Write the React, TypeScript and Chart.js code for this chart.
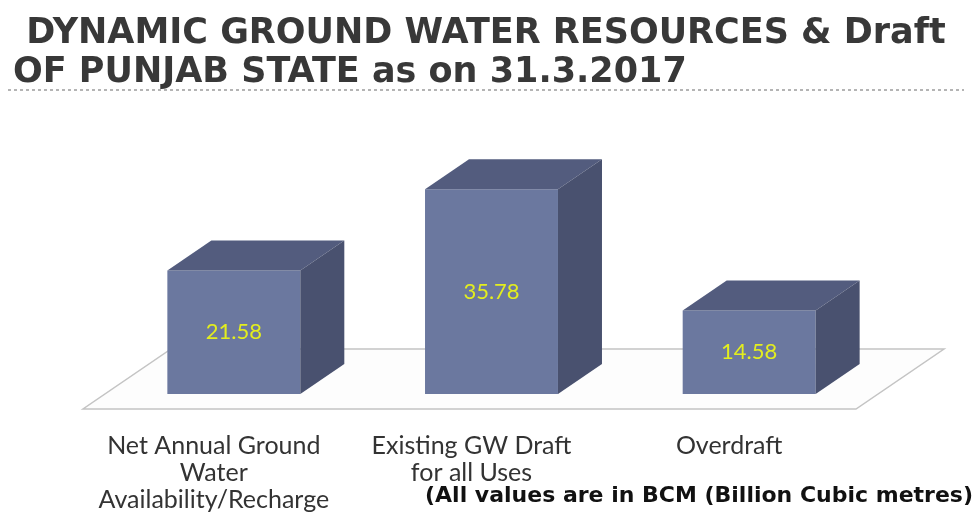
import React, { useEffect, useRef } from 'react';
import { Chart, registerables } from 'chart.js';

Chart.register(...registerables);

const titleLines = [' DYNAMIC GROUND WATER RESOURCES & Draft', 'OF PUNJAB STATE as on 31.3.2017'];
const categories = [
  ['Net Annual Ground', 'Water', 'Availability/Recharge'],
  ['Existing GW Draft', 'for all Uses'],
  ['Overdraft'],
];
const values = [21.58, 35.78, 14.58];
const valueLabels = ['21.58', '35.78', '14.58'];
const footnote = '(All values are in BCM (Billion Cubic metres)';

const FRONT = '#6b789f';
const TOP = '#535c7e';
const SIDE = '#49516f';
const DEPTH_X = 44;
const DEPTH_Y = -30;

const threeDPlugin = {
  id: 'threeD',
  beforeDatasetsDraw(chart: any) {
    const { ctx, chartArea, scales } = chart;
    const base = scales.y.getPixelForValue(0);
    const fx = -DEPTH_X / 2;
    const fy = -DEPTH_Y / 2;
    const l = chartArea.left + fx;
    const r = chartArea.right + fx;
    const y0 = base + fy;
    ctx.save();
    ctx.beginPath();
    ctx.moveTo(l, y0);
    ctx.lineTo(r, y0);
    ctx.lineTo(r + 2 * DEPTH_X, y0 + 2 * DEPTH_Y);
    ctx.lineTo(l + 2 * DEPTH_X, y0 + 2 * DEPTH_Y);
    ctx.closePath();
    ctx.fillStyle = '#fdfdfd';
    ctx.fill();
    ctx.strokeStyle = '#c4c4c4';
    ctx.lineWidth = 1.5;
    ctx.stroke();
    ctx.restore();
  },
  afterDatasetsDraw(chart: any) {
    const { ctx } = chart;
    const meta = chart.getDatasetMeta(0);
    ctx.save();
    meta.data.forEach((bar: any, i: number) => {
      const { x, y, base, width } = bar.getProps(['x', 'y', 'base', 'width'], true);
      const left = x - width / 2;
      const right = x + width / 2;
      // top face
      ctx.beginPath();
      ctx.moveTo(left, y);
      ctx.lineTo(left + DEPTH_X, y + DEPTH_Y);
      ctx.lineTo(right + DEPTH_X, y + DEPTH_Y);
      ctx.lineTo(right, y);
      ctx.closePath();
      ctx.fillStyle = TOP;
      ctx.fill();
      // side face
      ctx.beginPath();
      ctx.moveTo(right, y);
      ctx.lineTo(right + DEPTH_X, y + DEPTH_Y);
      ctx.lineTo(right + DEPTH_X, base + DEPTH_Y);
      ctx.lineTo(right, base);
      ctx.closePath();
      ctx.fillStyle = SIDE;
      ctx.fill();
      // value label
      ctx.fillStyle = '#e3ee1e';
      ctx.font = '22px Lato';
      ctx.textAlign = 'center';
      ctx.textBaseline = 'middle';
      ctx.fillText(valueLabels[i], x, (y + base) / 2);
    });
    ctx.restore();
  },
  afterDraw(chart: any) {
    const { ctx, width, height } = chart;
    ctx.save();
    // title
    ctx.fillStyle = '#383838';
    ctx.font = 'bold 35px "DejaVu Sans"';
    ctx.textAlign = 'left';
    ctx.textBaseline = 'alphabetic';
    ctx.fillText(titleLines[0], 14, 43);
    ctx.fillText(titleLines[1], 13, 82);
    // dotted rule
    ctx.strokeStyle = '#b4b4b4';
    ctx.lineWidth = 2;
    ctx.setLineDash([3, 3]);
    ctx.beginPath();
    ctx.moveTo(8, 90);
    ctx.lineTo(width - 12, 90);
    ctx.stroke();
    ctx.setLineDash([]);
    // footnote
    ctx.fillStyle = '#111111';
    ctx.font = 'bold 22px "DejaVu Sans"';
    ctx.textAlign = 'right';
    ctx.textBaseline = 'middle';
    ctx.fillText(footnote, width - 3, height - 19);
    ctx.restore();
  },
};

export default function App() {
  const ref = useRef<HTMLCanvasElement | null>(null);
  useEffect(() => {
    if (!ref.current) return;
    const chart = new Chart(ref.current, {
      type: 'bar',
      data: {
        labels: categories,
        datasets: [
          {
            data: values,
            backgroundColor: FRONT,
            borderWidth: 0,
            barPercentage: 1,
            categoryPercentage: 0.516,
          },
        ],
      },
      options: {
        animation: false,
        responsive: true,
        maintainAspectRatio: false,
        layout: { padding: { left: 105, right: 98, top: 165, bottom: 0 } },
        plugins: {
          legend: { display: false },
          tooltip: { enabled: false },
          title: { display: false },
        },
        scales: {
          x: {
            grid: { display: false, drawTicks: false },
            border: { display: false },
            afterFit: (scale: any) => {
              scale.height = 515 - 394;
            },
            ticks: {
              padding: 38,
              labelOffset: -20,
              color: '#333333',
              font: { family: 'Lato', size: 25, lineHeight: 1.08 },
              maxRotation: 0,
              autoSkip: false,
            },
          },
          y: {
            display: false,
            min: 0,
            max: 40,
          },
        },
      },
      plugins: [threeDPlugin],
    });
    return () => chart.destroy();
  }, []);
  return (
    <div style={{ position: 'fixed', left: 0, top: 0, width: 976, height: 515, background: '#ffffff' }}>
      <canvas ref={ref} />
    </div>
  );
}
